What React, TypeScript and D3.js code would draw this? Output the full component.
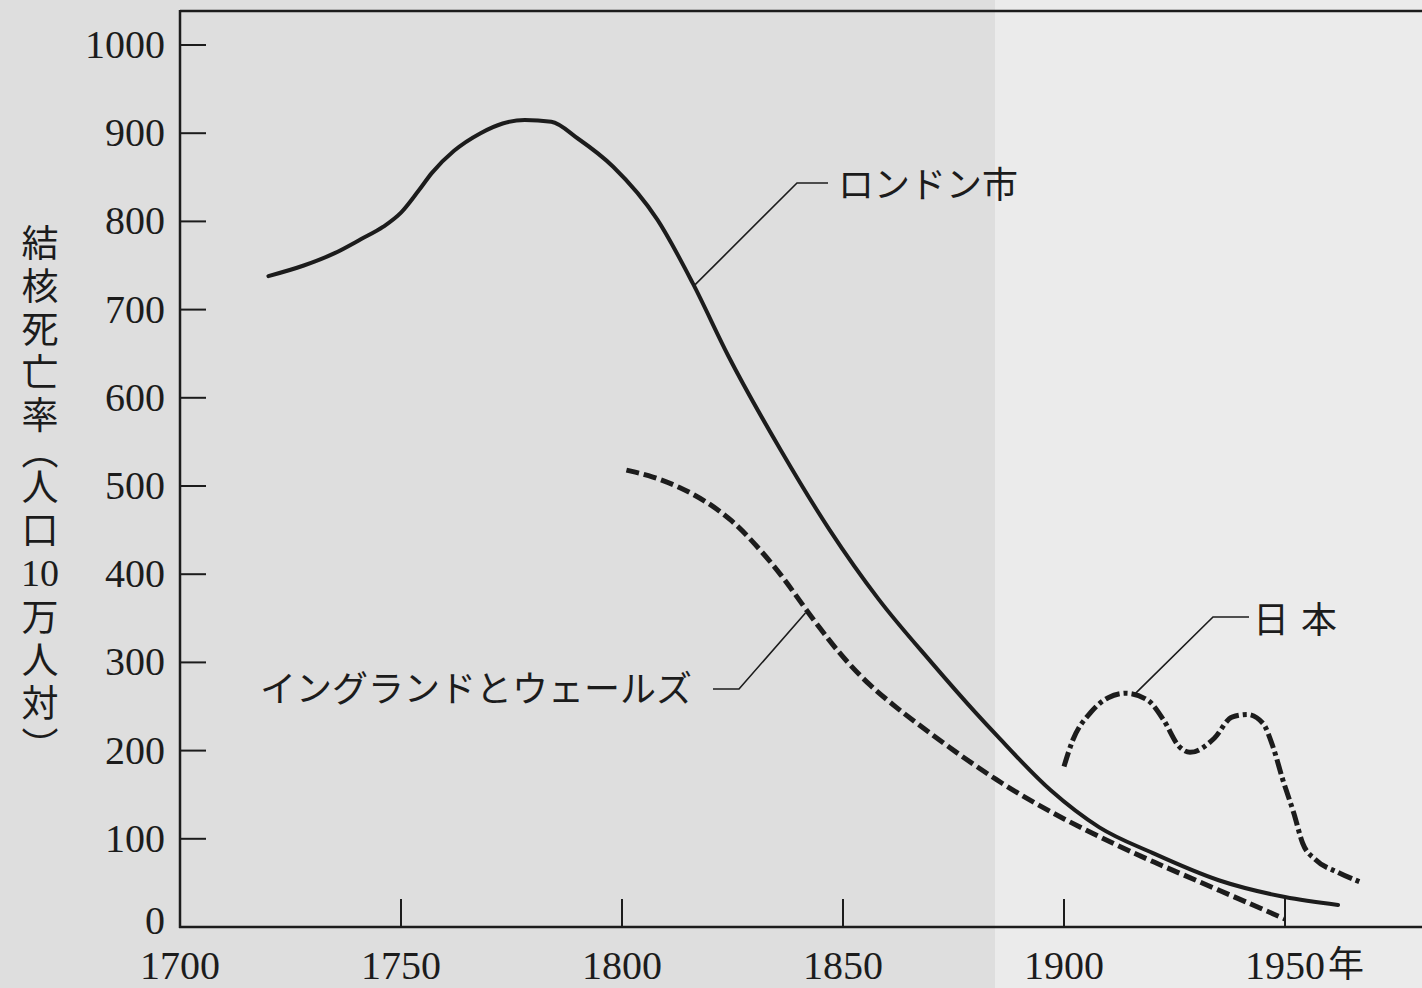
import React from "react";
import * as d3 from "d3";

// ---- data ----
const xTicks = [1700, 1750, 1800, 1850, 1900, 1950];
const yTicks = [0, 100, 200, 300, 400, 500, 600, 700, 800, 900, 1000];

const londonYears = [1720, 1728, 1735, 1741, 1746, 1750, 1754, 1757, 1762, 1768, 1773, 1778, 1784, 1790, 1798, 1808, 1816, 1824, 1836, 1847, 1858, 1870, 1880, 1885, 1897, 1908, 1920, 1935, 1950, 1962];
const londonValues = [738, 750, 764, 780, 794, 810, 835, 855, 880, 900, 911, 915, 913, 894, 862, 802, 730, 648, 540, 450, 372, 300, 243, 216, 155, 113, 84, 53, 34, 25];

const englandYears = [1801, 1807, 1813, 1819, 1825, 1830, 1836, 1841, 1847, 1851, 1856, 1862, 1868, 1875, 1886, 1897, 1908, 1920, 1935, 1950];
const englandValues = [518, 511, 499, 483, 461, 435, 400, 364, 324, 300, 274, 249, 226, 200, 162, 130, 102, 74, 42, 9];

const japanYears = [1900, 1902, 1906, 1910, 1914, 1919, 1922.5, 1926, 1928.5, 1934, 1938, 1941.5, 1945, 1947.3, 1949.5, 1952, 1954, 1957, 1962, 1967];
const japanValues = [182, 212, 243, 260, 265, 257, 235, 205, 198, 214, 238, 241, 231, 204, 167, 129, 95, 76, 62, 51];

const yTitleTop = "結核死亡率";
const yTitleParen = "（";
const yTitleMid = "人口";
const yTitleNum = "10";
const yTitleBottom = "万人対）";
const xUnit = "年";

const labelLondon = "ロンドン市";
const labelEngland = "イングランドとウェールズ";
const labelJapan = "日本";

// ---- layout ----
const W = 1422;
const H = 988;
const x = d3.scaleLinear().domain([1700, 1950]).range([180, 1285]);
const y = d3.scaleLinear().domain([0, 1000]).range([927, 45]);

const makeLine = (curve: d3.CurveFactory) =>
  d3
    .line<[number, number]>()
    .x((d) => x(d[0]))
    .y((d) => y(d[1]))
    .curve(curve);
const line = makeLine(d3.curveMonotoneX);
const smoothLine = makeLine(d3.curveBasis);

const zip = (a: number[], b: number[]) => a.map((v, i) => [v, b[i]] as [number, number]);

const numFont = "'Liberation Serif', 'DejaVu Serif', 'Noto Sans CJK JP', serif";
const jpFont = "'Noto Sans CJK JP', sans-serif";
const ink = "#1c1c1c";

export default function App() {
  return (
    <div>
      <style>{"body{margin:0}"}</style>
      <svg width={W} height={H} style={{ display: "block" }}>
        <rect x={0} y={0} width={W} height={H} fill="#dedede" />
        <rect x={995} y={0} width={W - 995} height={H} fill="#ebebeb" />

        {/* frame */}
        <line x1={180} y1={11} x2={W} y2={11} stroke={ink} strokeWidth={2.5} />
        <line x1={180} y1={10} x2={180} y2={928} stroke={ink} strokeWidth={2.5} />
        <line x1={179} y1={927} x2={W} y2={927} stroke={ink} strokeWidth={2.5} />

        {/* y ticks */}
        {yTicks.map((t) => (
          <g key={"y" + t}>
            {t > 0 && <line x1={180} x2={206} y1={y(t)} y2={y(t)} stroke={ink} strokeWidth={2} />}
            <text x={165} y={y(t) + (t === 0 ? 7 : 13)} textAnchor="end" fontFamily={numFont} fontSize={40} fill={ink}>
              {t}
            </text>
          </g>
        ))}

        {/* x ticks */}
        {xTicks.map((t) => (
          <g key={"x" + t}>
            {t > 1700 && <line x1={x(t)} x2={x(t)} y1={927} y2={899} stroke={ink} strokeWidth={2} />}
            <text x={x(t)} y={979} textAnchor="middle" fontFamily={numFont} fontSize={40} fill={ink}>
              {t}
            </text>
          </g>
        ))}
        <text x={x(1950) + 43} y={977} fontFamily={jpFont} fontSize={36} fill={ink}>
          {xUnit}
        </text>

        {/* y title, vertical writing */}
        <text x={40} y={224.5} writingMode="vertical-rl" fontFamily={jpFont} fontSize={37} letterSpacing={6} fill={ink}>
          {yTitleTop}
          <tspan dy={-7}>{yTitleParen}</tspan>
          <tspan dy={-7}>{yTitleMid}</tspan>
        </text>
        <text x={40} y={573} textAnchor="middle" dominantBaseline="central" fontFamily={numFont} fontSize={38} fill={ink}>
          {yTitleNum}
        </text>
        <text x={40} y={598.5} writingMode="vertical-rl" fontFamily={jpFont} fontSize={37} letterSpacing={6} fill={ink}>
          {yTitleBottom}
        </text>

        {/* series */}
        <path d={line(zip(londonYears, londonValues)) || ""} fill="none" stroke={ink} strokeWidth={4} strokeLinecap="round" />
        <path d={smoothLine(zip(englandYears, englandValues)) || ""} fill="none" stroke={ink} strokeWidth={5} strokeDasharray="13 5" />
        <path d={line(zip(japanYears, japanValues)) || ""} fill="none" stroke={ink} strokeWidth={5} strokeDasharray="15 4 4 4" />

        {/* annotations */}
        <polyline points={`${x(1816.5)},${y(728)} 797,183 828,183`} fill="none" stroke={ink} strokeWidth={1.6} />
        <text x={838} y={182} dominantBaseline="central" fontFamily={jpFont} fontSize={36} fill={ink}>
          {labelLondon}
        </text>

        <polyline points={`713,689 739,689 ${x(1841.5)},${y(356)}`} fill="none" stroke={ink} strokeWidth={1.6} />
        <text x={260} y={686} dominantBaseline="central" fontFamily={jpFont} fontSize={36} fill={ink}>
          {labelEngland}
        </text>

        <polyline points={`${x(1916)},${y(264)} 1213,617 1249,617`} fill="none" stroke={ink} strokeWidth={1.6} />
        <text x={1253} y={617} dominantBaseline="central" fontFamily={jpFont} fontSize={36} letterSpacing={12} fill={ink}>
          {labelJapan}
        </text>
      </svg>
    </div>
  );
}
